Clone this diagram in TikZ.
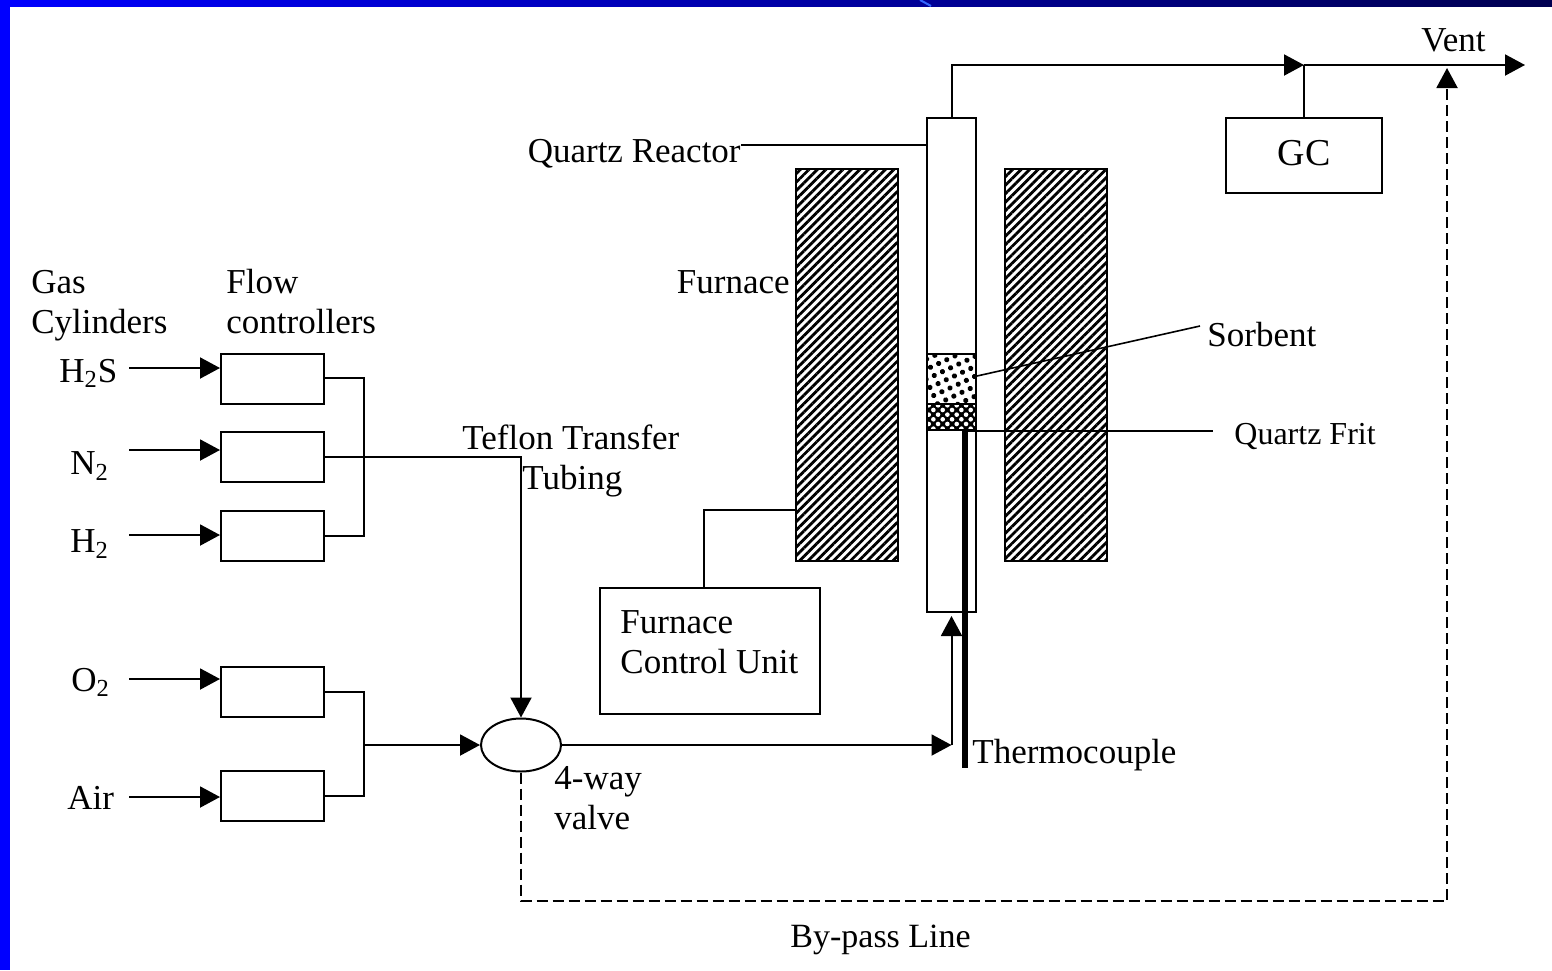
\documentclass[tikz,border=0pt]{standalone}
\usepackage{fontspec}
\setmainfont{Liberation Serif}
\usepackage{xcolor}
\usetikzlibrary{arrows.meta,calc,patterns,patterns.meta,shapes.geometric}
\definecolor{slideblue}{HTML}{0000FF}
\definecolor{slidenavy}{HTML}{000050}
\definecolor{slidestreak}{HTML}{3366FF}

\begin{document}
\begin{tikzpicture}[
    x=0.5pt, y=-0.5pt,
    every node/.style={font=\fontsize{17.5pt}{20pt}\selectfont, align=left, inner sep=0pt},
    box/.style={draw, line width=1pt, inner sep=0pt},
    ctrl/.style={box, minimum width=51.5pt, minimum height=25pt},
    heater/.style={draw, line width=1pt, minimum width=51pt, minimum height=196pt,
      pattern={Lines[angle=45,distance=3pt,line width=1.4pt]}},
    pipe/.style={line width=1pt},
    flow/.style={pipe, -{Triangle[length=10pt,width=10.5pt]}},
    bypass/.style={flow, dash pattern=on 5.5pt off 2.5pt},
    lead/.style={line width=0.8pt}
  ]

  \useasboundingbox (0,0) rectangle (1552,970);
  \fill[white] (0,0) rectangle (1552,970);

  % slide frame
  \shade[left color=slideblue, right color=slidenavy] (0,0) rectangle (1552,6);
  \fill[slideblue] (0,0) rectangle (10,970);
  \draw[slidestreak, line width=1pt] (920,0) -- (931,6);

  % gas side
  \node[ctrl] (fcs) at (272.5,378.5) {};
  \node[ctrl] (fcn) at (272.5,456.5) {};
  \node[ctrl] (fch) at (272.5,535.5) {};
  \node[ctrl] (fco) at (272.5,691.5) {};
  \node[ctrl] (fca) at (272.5,795.5) {};

  \node[anchor=west] (lbs) at (59,373) {H\textsubscript{2}S};
  \node[anchor=west] (lbn) at (70,466) {N\textsubscript{2}};
  \node[anchor=west] (lbh) at (70,544) {H\textsubscript{2}};
  \node[anchor=west] (lbo) at (71,682) {O\textsubscript{2}};
  \node[anchor=west] (lba) at (67,798) {Air};
  \node[anchor=west] (lbgas) at (31,306) {Gas\\Cylinders};
  \node[anchor=west] (lbflow) at (226,302) {Flow\\controllers};

  \coordinate (ins) at (129,368);
  \coordinate (inn) at (129,450);
  \coordinate (inh) at (129,535);
  \coordinate (ino) at (129,679);
  \coordinate (ina) at (129,797);
  \foreach \a/\b in {ins/fcs, inn/fcn, inh/fch, ino/fco, ina/fca}
    {\draw[flow] (\a) -- (\a -| \b.west);}

  \node[draw, line width=1pt, ellipse, minimum width=40pt, minimum height=26.5pt] (valve) at (521,745) {};
  \coordinate (mixa) at (364,378);
  \coordinate (mixb) at (364,692);
  \draw[pipe] (fcs.east |- mixa) -- (mixa) -- (364,536) -- (fch.east |- 0,536);
  \draw[pipe] (fco.east |- mixb) -- (mixb) -- (364,796) -- (fca.east |- 0,796);
  \draw[flow] (364,745) -- (valve.west);
  \draw[flow] (fcn.east) -| (valve.north);

  \node[anchor=west] (lbtef) at (462,461) {Teflon Transfer\\\hspace*{30pt}Tubing};
  \node[anchor=west] (lbvalve) at (554,798) {4-way\\valve};

  % reactor and furnace
  \node[heater] (htl) at (847,365) {};
  \node[heater] (htr) at (1056,365) {};
  \node[box, fill=white, minimum width=24.5pt, minimum height=247pt] (reactor) at (951.5,365) {};
  \node[box, minimum width=24.5pt, minimum height=25pt,
    pattern={Dots[radius=1.3pt,distance=4.5pt,angle=25]}] (sorbent) at (951.5,379) {};
  \node[box, minimum width=24.5pt, minimum height=13pt, preaction={fill=black}, pattern color=white,
    pattern={Dots[radius=1.15pt,distance=3.3pt,angle=45]}] (frit) at (951.5,417) {};
  \coordinate (tctop) at (965,431);
  \coordinate (tcend) at (965,768);
  \draw[line width=3pt] (tctop) -- (tcend);

  \node[box, minimum width=110pt, minimum height=63pt] (unit) at (710,651) {};
  \node[anchor=west] (lbunit) at (620,642) {Furnace\\Control Unit};
  \draw[pipe] (htl.west |- 0,510) -| (unit.north -| 704,0);

  \node[anchor=east] (lbqr) at (741,154) {Quartz Reactor};
  \node[anchor=east] (lbfur) at (790,282) {Furnace};
  \node[anchor=west] (lbsor) at (1207,335) {Sorbent};
  \node[anchor=west, font=\fontsize{16pt}{20pt}\selectfont] (lbfrit) at (1234,436) {Quartz Frit};
  \node[anchor=west] (lbtc) at (972,755) {Thermocouple};

  \draw[lead] (lbqr.east |- 0,145) -- (reactor.west |- 0,145);
  \draw[lead] (sorbent.east |- 0,376) -- (1200,326);
  \draw[lead] (tctop) -- (1213,431);

  % valve outlet up to the reactor
  \coordinate (elbow) at (951.5,745);
  \draw[flow] (valve.east) -- (elbow);
  \draw[flow] (elbow) -- ($(reactor.south)+(0,3)$);

  % outlet and analyser
  \node[box, text depth=3pt, minimum width=78pt, minimum height=37.5pt, font=\fontsize{19pt}{20pt}\selectfont] (gc) at (1304,155.5) {GC};
  \coordinate (tee) at (gc.north |- 0,65);
  \draw[flow] (reactor.north) |- (tee);
  \draw[pipe] (gc.north) -- (tee);
  \draw[flow] (tee) -- (1525,65);
  \node[anchor=west] (lbvent) at (1421,40) {Vent};

  % by-pass
  \draw[bypass] (valve.south) |- (1447,901) -- (1447,68);
  \node[anchor=west, font=\fontsize{17pt}{20pt}\selectfont] (lbby) at (790,940) {By-pass Line};

\end{tikzpicture}
\end{document}
